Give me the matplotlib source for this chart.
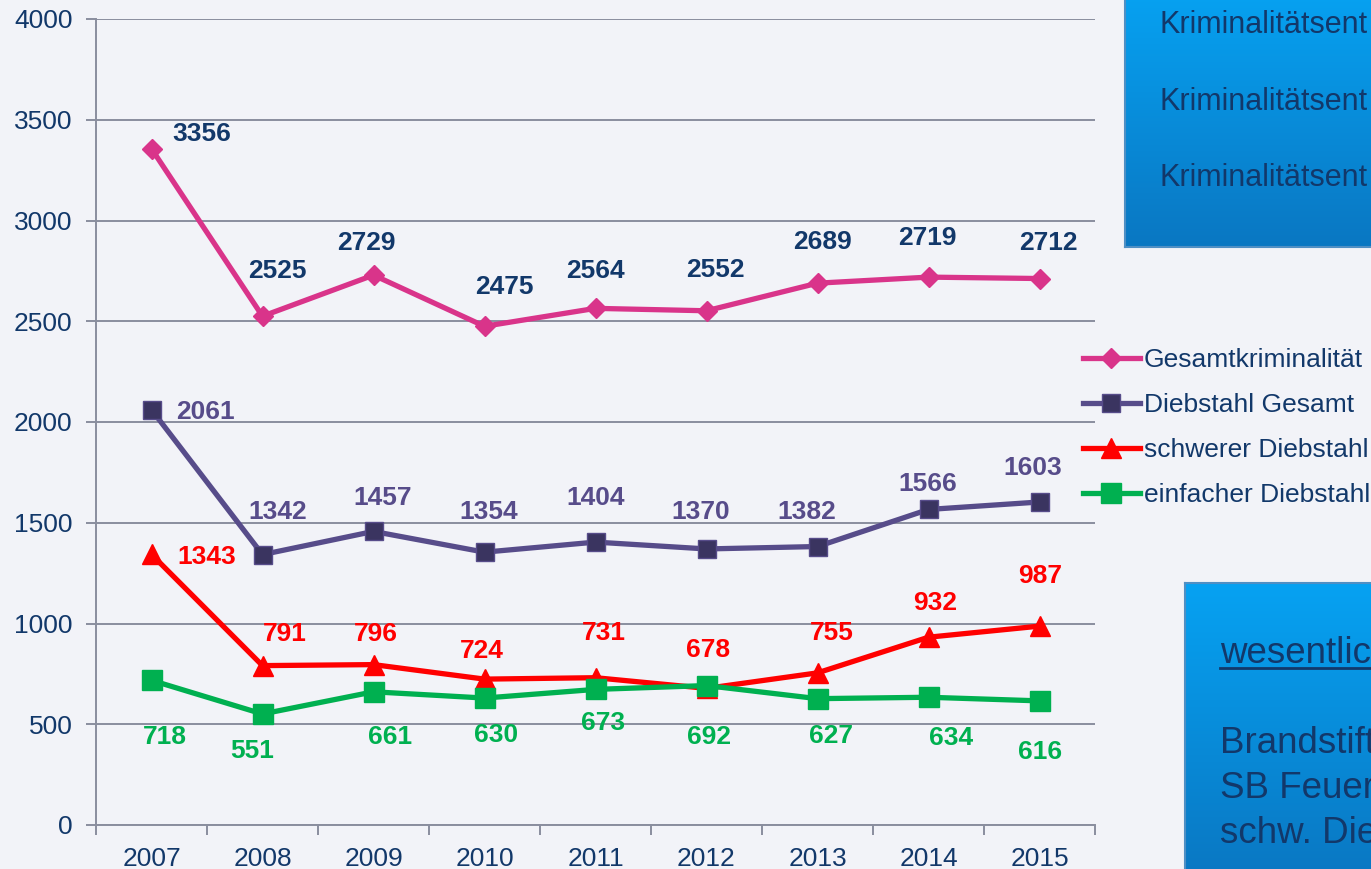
import numpy as np
import matplotlib.pyplot as plt
from matplotlib.lines import Line2D
from matplotlib.colors import LinearSegmentedColormap

plt.rcParams['font.family'] = ['Liberation Sans', 'DejaVu Sans']

years = ['2007', '2008', '2009', '2010', '2011', '2012', '2013', '2014', '2015']
gesamt = [3356, 2525, 2729, 2475, 2564, 2552, 2689, 2719, 2712]
diebstahl = [2061, 1342, 1457, 1354, 1404, 1370, 1382, 1566, 1603]
schwer = [1343, 791, 796, 724, 731, 678, 755, 932, 987]
einfach = [718, 551, 661, 630, 673, 692, 627, 634, 616]
names = ['Gesamtkriminalität', 'Diebstahl Gesamt', 'schwerer Diebstahl', 'einfacher Diebstahl']
# the side boxes are cut off by the slide edge in the original
top_box_lines = ['Kriminalitätsent', 'Kriminalitätsent', 'Kriminalitätsent']
bottom_box_head = 'wesentlic'
bottom_box_lines = ['Brandstift', 'SB Feuer', 'schw. Die']

# label offsets in pixels (dx, dy)
off_gesamt = [(50, 17), (15, 48), (-7, 35), (20, 42), (0, 40), (9, 43), (5, 44), (-1, 42), (9, 38)]
off_dieb = [(54, 0), (15, 45), (9, 36), (4, 43), (0, 47), (-6, 39), (-11, 37), (-1, 28), (-7, 36)]
off_schwer = [(55, 0), (22, 34), (2, 33), (-3, 31), (8, 47), (2, 41), (14, 42), (7, 37), (1, 53)]
off_einfach = [(13, -54), (-10, -35), (17, -43), (12, -34), (8, -31), (2, -49), (13, -35), (23, -38), (1, -49)]

BG = '#F2F3F8'
NAVY = '#12386A'
GRID = '#8A8E9E'
W, H = 1371, 869

fig = plt.figure(figsize=(13.71, 8.69), dpi=100, facecolor=BG)
ax = fig.add_axes([96 / W, 1 - 825 / H, (1095 - 96) / W, (825 - 19) / H])
ax.set_facecolor(BG)

x = np.arange(len(years))
series = [
    (gesamt, '#D9348A', 'D', 10, '#D9348A', '#D9348A', NAVY, off_gesamt),
    (diebstahl, '#574C8A', 's', 13.5, '#3A3460', '#574C8A', '#574C8A', off_dieb),
    (schwer, '#FF0000', '^', 15, '#FF0000', '#FF0000', '#FF0000', off_schwer),
    (einfach, '#00B050', 's', 14, '#00B050', '#00B050', '#00B050', off_einfach),
]
for i, (vals, col, mk, ms, mfc, mec, lcol, offs) in enumerate(series):
    ax.plot(x, vals, color=col, lw=3.8, marker=mk, markersize=ms, markerfacecolor=mfc,
            markeredgecolor=mec, markeredgewidth=1, label=names[i], zorder=3 + i)
    for xi, v, (dx, dy) in zip(x, vals, offs):
        ax.annotate(str(v), (xi, v), xytext=(dx, dy - 2.5), textcoords='offset pixels',
                    ha='center', va='center', fontsize=19, fontweight='bold',
                    color=lcol, zorder=10)

ax.set_xlim(-0.5, 8.5)
ax.set_ylim(0, 4000)
ax.set_yticks(np.arange(0, 4001, 500))
ax.set_xticks(x)
ax.set_xticklabels(years)
ax.set_xticks(np.arange(-0.5, 9, 1), minor=True)
ax.grid(axis='y', color=GRID, lw=1.4, zorder=0)
ax.set_axisbelow(True)
for s in ['top', 'right']:
    ax.spines[s].set_visible(False)
for s in ['left', 'bottom']:
    ax.spines[s].set_color(GRID)
    ax.spines[s].set_linewidth(1.4)
ax.tick_params(axis='y', length=7, width=1.4, color=GRID, pad=10, labelsize=19, labelcolor=NAVY)
ax.tick_params(axis='x', which='major', length=0, pad=16, labelsize=19, labelcolor=NAVY)
ax.tick_params(axis='x', which='minor', length=7, width=1.4, color=GRID)

leg = fig.legend(loc='upper left', bbox_to_anchor=(1083 / W, 1 - 348 / H), frameon=False,
                 fontsize=19, handlelength=2.15, handletextpad=0.15, labelspacing=0.8,
                 borderpad=0, borderaxespad=0, labelcolor=NAVY)

# blue boxes
cmap = LinearSegmentedColormap.from_list('box', ['#06A2F2', '#0A77C2'])
grad = np.linspace(0, 1, 256).reshape(-1, 1)
for (bx0, by0, bx1, by1) in [(1125, -10, W + 10, 247), (1185, 583, W + 10, H + 10)]:
    bax = fig.add_axes([bx0 / W, 1 - by1 / H, (bx1 - bx0) / W, (by1 - by0) / H])
    bax.imshow(grad, aspect='auto', cmap=cmap, extent=[0, 1, 0, 1], origin='upper')
    bax.set_xticks([])
    bax.set_yticks([])
    for s in bax.spines.values():
        s.set_color('#4F8FC4')
        s.set_linewidth(1.5)

for yb, t in zip([33, 110, 186], top_box_lines):
    fig.text(1160 / W, 1 - yb / H, t, fontsize=22, color=NAVY, va='baseline', ha='left')

fig.text(1220 / W, 1 - 663 / H, bottom_box_head, fontsize=26.5, color=NAVY, va='baseline', ha='left')
fig.add_artist(Line2D([1220 / W, 1.0], [1 - 668 / H] * 2, transform=fig.transFigure, color=NAVY, lw=2))
for yb, t in zip([753, 798, 843], bottom_box_lines):
    fig.text(1220 / W, 1 - yb / H, t, fontsize=26.5, color=NAVY, va='baseline', ha='left')

fig.savefig('out.png', dpi=100, facecolor=BG)
